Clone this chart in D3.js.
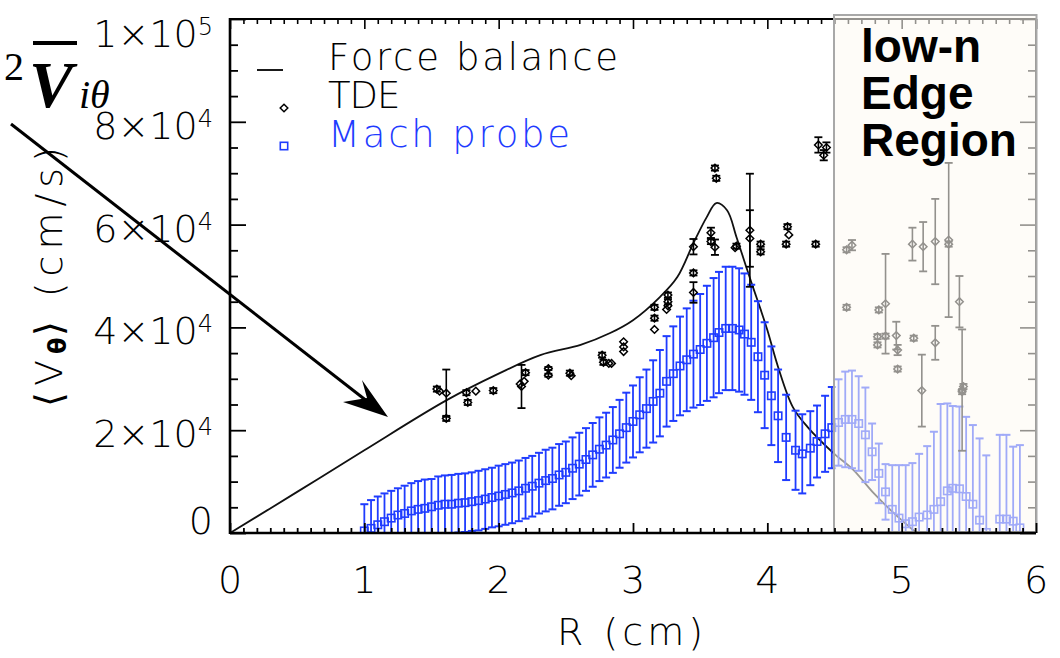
<!DOCTYPE html>
<html><head><meta charset="utf-8">
<script src="https://cdn.jsdelivr.net/npm/d3@7"></script>
<style>body{margin:0;background:#fff}svg{display:block}</style>
</head><body><svg id="c" width="1060" height="658"></svg>
<script>
// ---------- data (cm, cm/s) ----------
const fbR = [0, 0.5, 1.0, 1.61, 2.0, 2.31, 2.61, 2.83, 3.0, 3.2, 3.33, 3.45, 3.55, 3.62, 3.70, 3.77, 3.85, 3.9, 3.95, 4.0, 4.08, 4.19, 4.30, 4.49, 4.64, 4.79, 4.94, 5.11];
const fbV = [0, 8000, 16100, 25800, 31000, 34600, 36600, 38900, 41400, 45900, 49800, 56400, 61500, 64200, 62800, 57600, 51200, 47300, 43500, 39500, 32300, 24500, 20600, 15600, 12300, 7800, 3900, 0];

const machR = [1.00,1.05,1.10,1.15,1.20,1.25,1.30,1.35,1.40,1.45,1.50,1.55,1.60,1.65,1.70,1.75,1.80,1.85,1.90,1.95,
  2.00,2.05,2.10,2.15,2.20,2.25,2.30,2.35,2.40,2.45,2.50,2.55,2.60,2.65,2.70,2.75,2.80,2.85,2.90,2.95,
  3.00,3.05,3.10,3.15,3.20,3.25,3.30,3.35,3.40,3.45,3.50,3.55,3.60,3.64,3.69,3.74,3.79,3.83,3.88,3.93,
  3.98,4.03,4.08,4.14,4.21,4.26,4.32,4.37,4.43,4.48,4.53,4.58,4.63,4.68,4.73,4.78,4.83,4.88,4.93,4.98,
  5.03,5.08,5.13,5.19,5.24,5.29,5.34,5.38,5.43,5.48,5.53,5.58,5.63,5.73,5.78,5.83,5.88];
const machV = [400,900,1600,2200,2900,3500,3800,4300,4600,4800,5100,5400,5600,5600,5800,5900,6100,6300,6600,6900,
  7200,7500,7800,8200,8700,9100,9700,10200,10600,11300,11800,12600,13400,14300,15200,16300,17100,18100,19300,20500,
  21700,23000,24200,25600,27200,29500,31000,32500,33700,34800,35700,36900,38000,39000,39800,39800,39500,38700,37100,34300,
  30700,26700,22800,18600,16100,15400,16500,17800,19300,20500,21500,22100,22100,21300,19100,15800,11600,8000,4600,2900,
  1800,2200,3100,3500,4600,6100,8200,8700,8600,7100,5600,2500,100,2700,2700,2300,1000];
const machE = [5200,5500,5500,5500,5300,5200,5400,5400,5500,5600,5400,5600,5600,5700,5700,5700,5700,5800,5800,5800,
  5900,5900,5900,5900,5900,5900,5900,6000,6000,6000,6000,6000,6100,6100,6200,6200,6300,6400,6600,6800,
  7000,7300,7600,8000,8400,8800,9200,9600,10000,10400,10800,11200,11600,11800,12000,12000,12000,11800,11200,10800,
  10300,9600,9000,8300,7700,7700,7200,7000,7400,7900,8400,9300,9500,9200,9200,5500,5800,5400,8600,10300,
  11400,11400,12300,13400,15100,19000,17000,16000,16000,15500,15400,15900,15000,16400,16400,14500,16100];

const tdeR = [1.54,1.56,1.61,1.61,1.76,1.77,1.83,1.96,2.17,2.16,2.19,2.20,2.37,2.37,2.53,2.54,2.77,2.78,2.82,2.84,
  2.93,2.93,2.93,3.16,3.16,3.16,3.26,3.26,3.26,3.25,3.45,3.45,3.45,3.58,3.58,3.61,3.61,3.62,3.77,3.76,
  3.87,3.87,3.95,3.95,4.15,4.16,4.14,4.36,4.38,4.42,4.44,4.59,4.63,4.59,4.83,4.88,4.88,4.82,4.82,4.96,
  4.97,4.97,5.09,5.08,5.16,5.25,5.35,5.35,5.25,5.43,5.15,5.45,5.45,5.46];
const tdeV = [28000,27600,27200,22300,27300,25400,27600,27700,28500,29000,29500,31200,32000,30700,31100,30600,34600,33200,33000,33000,
  37200,36200,35300,43900,41800,39600,46300,45000,44200,43500,55700,50600,46800,58400,56700,55600,71000,69000,55800,55500,
  58900,57300,56200,54700,59600,58000,56200,56200,75500,73500,75000,55100,56000,43900,43400,38300,44600,38200,36600,38400,
  35600,31900,37900,56200,55700,56700,57000,56200,37000,45000,27700,27800,27500,28500];
const tdeE = [500,0,4600,500,500,500,0,500,4200,0,0,500,300,300,500,0,500,500,0,0,
  0,0,0,500,500,0,500,500,0,0,1500,500,2000,1000,500,1500,500,500,500,0,
  11000,5500,500,500,500,0,500,500,1500,1000,1000,500,1000,500,500,500,9700,500,500,2700,
  1000,500,500,3200,4800,8300,15000,500,3300,5000,7000,11800,500,500];

const xTicks = [0,1,2,3,4,5,6];
const yTicks = [0,20000,40000,60000,80000,100000];
const yTickMant = ["0","2×10","4×10","6×10","8×10","1×10"];
const yTickExp  = ["","4","4","4","4","5"];
const legendLabels = ["Force balance","TDE","Mach probe"];
const edgeLabel = ["low-n","Edge","Region"];
const edgeStart = 4.5;

// ---------- setup ----------
const svg = d3.select("#c");
const L=230, Rr=1036, T=19, B=533;
const x = d3.scaleLinear().domain([0,6]).range([L,Rr]);
const y = d3.scaleLinear().domain([0,100000]).range([B,T]);
const FONT = "'DejaVu Sans', sans-serif";
const BLUE = "#1f3cff";

svg.append("defs").append("clipPath").attr("id","pc")
  .append("rect").attr("x",L).attr("y",T).attr("width",Rr-L).attr("height",B-T);

// top & right axis (under overlay)
const topAx = d3.axisTop(x).ticks(60).tickSize(5).tickFormat("");
const gTop = svg.append("g").attr("transform",`translate(0,${T})`).call(topAx);
gTop.selectAll(".tick line").attr("y2", d => Math.abs(d-Math.round(d))<1e-6 ? 10 : 5).attr("stroke","#000").attr("stroke-width",1.6);
gTop.select(".domain").remove();
svg.append("line").attr("x1",L).attr("x2",Rr).attr("y1",T).attr("y2",T).attr("stroke","#000").attr("stroke-width",2);

const rightAx = d3.axisLeft(y).tickValues(d3.range(0,100001,5000)).tickSize(8).tickFormat("");
const gRight = svg.append("g").attr("transform",`translate(${Rr},0)`).call(rightAx);
gRight.selectAll(".tick line").attr("x2", d => d%20000===0 ? -16 : -8).attr("stroke","#000").attr("stroke-width",1.6);
gRight.select(".domain").remove();
svg.append("line").attr("x1",Rr).attr("x2",Rr).attr("y1",T).attr("y2",B).attr("stroke","#000").attr("stroke-width",2);

const plot = svg.append("g").attr("clip-path","url(#pc)");

// force balance
const fb = fbR.map((r,i)=>[r,fbV[i]]);
plot.append("path").datum(fb)
  .attr("d", d3.line().x(d=>x(d[0])).y(d=>y(d[1])).curve(d3.curveCatmullRom.alpha(0.5)))
  .attr("fill","none").attr("stroke","#111").attr("stroke-width",1.8);

// Mach probe
const mach = machR.map((r,i)=>({r, v:machV[i], e:machE[i]}));
const gm = plot.append("g").attr("stroke",BLUE).attr("fill","none");
const capW = 4;
mach.forEach(d=>{
  const cx = x(d.r), y1 = y(d.v+d.e), y0 = y(d.v-d.e);
  gm.append("line").attr("x1",cx).attr("x2",cx).attr("y1",y1).attr("y2",y0).attr("stroke-width",1.8);
  gm.append("line").attr("x1",cx-capW).attr("x2",cx+capW).attr("y1",y1).attr("y2",y1).attr("stroke-width",2);
  gm.append("line").attr("x1",cx-capW).attr("x2",cx+capW).attr("y1",y0).attr("y2",y0).attr("stroke-width",2);
});
gm.selectAll("rect.sq").data(mach).join("rect").attr("class","sq")
  .attr("x",d=>x(d.r)-3.7).attr("y",d=>y(d.v)-3.7).attr("width",7.4).attr("height",7.4)
  .attr("stroke-width",1.6).attr("fill","none");

// TDE
const tde = tdeR.map((r,i)=>({r, v:tdeV[i], e:tdeE[i]}));
const gt = plot.append("g").attr("stroke","#000").attr("fill","none");
tde.filter(d=>d.e>0).forEach(d=>{
  const cx = x(d.r), y1 = y(d.v+d.e), y0 = y(d.v-d.e);
  gt.append("line").attr("x1",cx).attr("x2",cx).attr("y1",y1).attr("y2",y0).attr("stroke-width",1.6);
  gt.append("line").attr("x1",cx-4).attr("x2",cx+4).attr("y1",y1).attr("y2",y1).attr("stroke-width",1.8);
  gt.append("line").attr("x1",cx-4).attr("x2",cx+4).attr("y1",y0).attr("y2",y0).attr("stroke-width",1.8);
});
const dia = r => `M0,${-r}L${r},0L0,${r}L${-r},0Z`;
gt.selectAll("path.dm").data(tde).join("path").attr("class","dm")
  .attr("d",dia(3.8)).attr("transform",d=>`translate(${x(d.r)},${y(d.v)})`)
  .attr("stroke-width",1.5).attr("fill","none");

// edge region overlay
svg.append("rect").attr("x",x(edgeStart)-0.5).attr("y",T-4).attr("width",Rr-x(edgeStart)+1).attr("height",B-T+3)
  .attr("fill","#fdfaf3").attr("fill-opacity",0.58).attr("stroke","#a8a8a8").attr("stroke-width",2);

// left axis
const leftAx = d3.axisRight(y).tickValues(d3.range(0,100001,5000)).tickSize(8).tickFormat("");
const gLeft = svg.append("g").attr("transform",`translate(${L},0)`).call(leftAx);
gLeft.selectAll(".tick line").attr("x2", d => d%20000===0 ? 16 : 8).attr("stroke","#000").attr("stroke-width",1.8);
gLeft.select(".domain").remove();
svg.append("line").attr("x1",L).attr("x2",L).attr("y1",T-1).attr("y2",B+1).attr("stroke","#000").attr("stroke-width",2.6);

// bottom axis
const botAx = d3.axisBottom(x).ticks(60).tickSize(5).tickFormat("");
const gBot = svg.append("g").attr("transform",`translate(0,${B})`).call(botAx);
gBot.selectAll(".tick line").attr("y2", d => Math.abs(d-Math.round(d))<1e-6 ? -10 : -5).attr("stroke","#000").attr("stroke-width",1.8);
gBot.select(".domain").remove();
svg.append("line").attr("x1",L).attr("x2",Rr).attr("y1",B).attr("y2",B).attr("stroke","#000").attr("stroke-width",2.6);

// x tick labels
svg.append("g").selectAll("text").data(xTicks).join("text")
  .attr("x",d=>x(d)).attr("y",593).attr("text-anchor","middle")
  .attr("font-family",FONT).attr("font-weight",200).attr("font-size",38).text(d=>d);

// y tick labels (kept inside the axis span)
const yl = svg.append("g").attr("font-family",FONT).attr("font-weight",200).attr("font-size",38).attr("text-anchor","end");
yTicks.forEach((v,i)=>{
  const c = Math.max(T+13.5, Math.min(B-13.5, y(v)+3));
  const t = yl.append("text").attr("x",213).attr("y",c+14);
  t.append("tspan").text(yTickMant[i]);
  if (yTickExp[i]) t.append("tspan").attr("dy",-12).attr("font-size",24).text(yTickExp[i]);
});

// axis titles
svg.append("text").attr("x",632).attr("y",645).attr("text-anchor","middle")
  .attr("font-family",FONT).attr("font-weight",200).attr("font-size",38).attr("letter-spacing",4).text("R (cm)");
const yt = svg.append("text").attr("transform","translate(62,274) rotate(-90)").attr("text-anchor","middle")
  .attr("font-family",FONT).attr("font-weight",200).attr("font-size",38).attr("letter-spacing",6);
yt.append("tspan").text("⟨V");
yt.append("tspan").attr("font-size",24).attr("font-weight","bold").attr("dy",4).attr("letter-spacing",1).text("θ");
yt.append("tspan").attr("dy",-4).text("⟩ (cm/s)");

// legend
const lg = svg.append("g").attr("font-family",FONT).attr("font-weight",200).attr("font-size",37);
lg.append("line").attr("x1",257).attr("x2",283).attr("y1",70).attr("y2",70).attr("stroke","#000").attr("stroke-width",1.8);
lg.append("text").attr("x",328).attr("y",70).attr("letter-spacing",2.7).text(legendLabels[0]);
lg.append("path").attr("d",dia(3.8)).attr("transform","translate(284,108)").attr("fill","none").attr("stroke","#000").attr("stroke-width",1.5);
lg.append("text").attr("x",328).attr("y",108).attr("letter-spacing",-1).text(legendLabels[1]);
lg.append("rect").attr("x",280.3).attr("y",142.3).attr("width",7.4).attr("height",7.4).attr("fill","none").attr("stroke",BLUE).attr("stroke-width",1.6);
lg.append("text").attr("x",328).attr("y",147).attr("fill",BLUE).attr("letter-spacing",2.8).text(legendLabels[2]);

// edge region label
const el = svg.append("g").attr("font-family","'Liberation Sans', Arial, sans-serif").attr("font-weight","bold").attr("font-size",46);
edgeLabel.forEach((s,i)=> el.append("text").attr("x",861).attr("y",62+i*47).text(s));

// formula annotation + arrow
const ann = svg.append("g").attr("font-family","'Liberation Serif', 'Times New Roman', serif");
ann.append("text").attr("x",4).attr("y",80).attr("font-size",40).text("2");
ann.append("text").attr("x",29).attr("y",107).attr("font-size",66).attr("font-style","italic").attr("font-weight","bold").text("V");
ann.append("line").attr("x1",33).attr("x2",77).attr("y1",43).attr("y2",43).attr("stroke","#000").attr("stroke-width",4);
ann.append("text").attr("x",79).attr("y",108).attr("font-size",40).attr("font-style","italic").text("iθ");
svg.append("line").attr("x1",11).attr("y1",124).attr("x2",372).attr("y2",405).attr("stroke","#000").attr("stroke-width",3);
svg.append("path").attr("d","M388,417 L343,402 L367,398 L362,380 Z").attr("fill","#000");
</script></body></html>
